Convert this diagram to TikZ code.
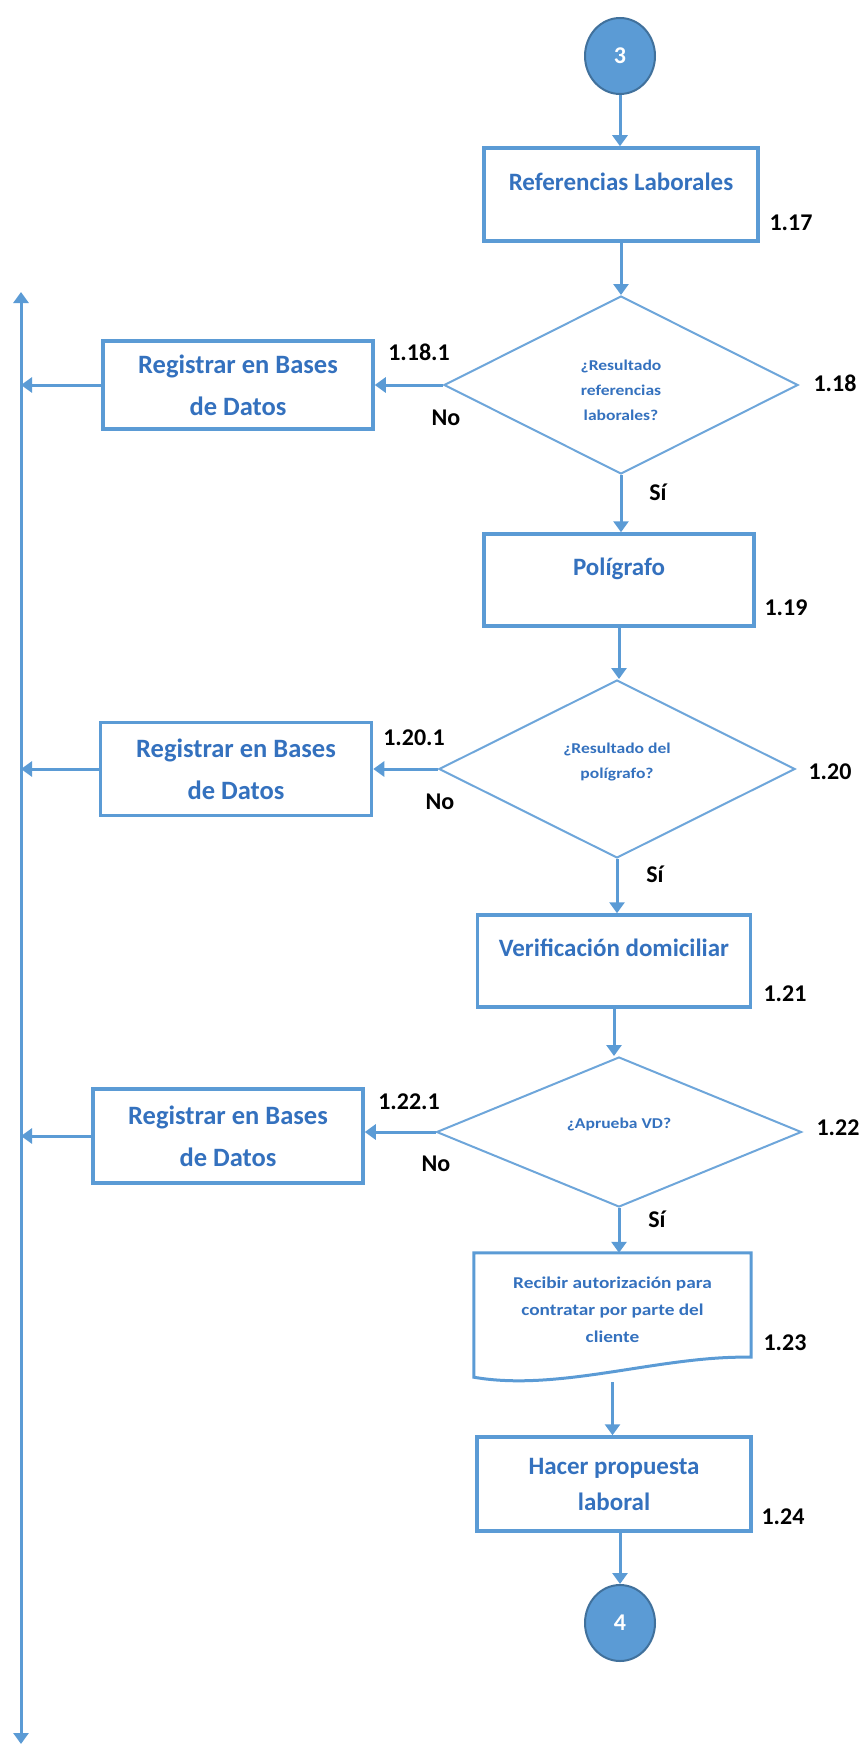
\documentclass[tikz,border=0pt]{standalone}
\usepackage{fontspec}
\setmainfont{Carlito}
\newfontfamily\widefam{Carlito}[FakeStretch=1.17]
\usetikzlibrary{shapes.geometric,arrows.meta,calc}
\definecolor{accent}{HTML}{5B9BD5}
\definecolor{accentdark}{HTML}{41719C}
\definecolor{boxtext}{HTML}{3471BE}
\definecolor{dialine}{HTML}{6EA6DA}
\newcommand{\boxfont}{\fontsize{25}{40}\selectfont\bfseries}
\newcommand{\sidefont}{\fontsize{26.5}{42}\selectfont\bfseries}
\newcommand{\diafont}{\widefam\fontsize{15}{25}\selectfont\bfseries}
\newcommand{\docfont}{\widefam\fontsize{16.5}{27}\selectfont\bfseries}
\newcommand{\numfont}{\fontsize{24}{28}\selectfont\bfseries}
\begin{document}
\begin{tikzpicture}[x=1pt,y=-1pt,
  conn/.style={draw=accent, line width=3pt, -{Triangle[width=15pt,length=11pt]}},
  both/.style={draw=accent, line width=3pt, {Triangle[width=15pt,length=11pt]}-{Triangle[width=15pt,length=11pt]}},
  stepbox/.style={rectangle, draw=accent, line width=3.5pt, minimum width=272pt, minimum height=92pt,
    inner sep=0pt, font=\boxfont, text=boxtext, align=center},
  sidebox/.style={stepbox, font=\sidefont},
  upper/.style={text depth=26pt},
  decision/.style={diamond, draw=dialine, line width=2pt, inner sep=0pt,
    font=\diafont, text=boxtext, align=center},
  connector/.style={ellipse, fill=accent, draw=accentdark, line width=2pt, minimum width=70pt,
    minimum height=76pt, inner sep=0pt, text=white, font=\numfont},
  doctext/.style={font=\docfont, text=boxtext, align=center, inner sep=0pt},
  num/.style={font=\numfont, text=black, inner sep=0pt}
]
\useasboundingbox (0,0) rectangle (859,1744);

% on-page connectors
\node[connector] (c3) at (620,56) {3};
\node[connector] (c4) at (620,1623) {4};

% main column
\node[stepbox, upper, minimum width=274pt, minimum height=93pt] (b117) at (621,194.5) {Referencias Laborales};
\node[decision, minimum width=354pt, minimum height=178pt] (d118) at (621,385) {};
\node[decision, draw=none] (t118) at ($(d118.center)+(0,5)$) {¿Resultado\\referencias\\laborales?};
\node[stepbox, upper, minimum width=270pt] (b119) at (619,580) {Polígrafo};
\node[decision, minimum width=356pt, minimum height=178pt] (d120) at (617,769) {};
\node[decision, draw=none] (t120) at ($(d120.center)+(0,-7)$) {¿Resultado del\\polígrafo?};
\node[stepbox, upper, minimum width=273pt] (b121) at (614,961) {Verificación domiciliar};
\node[decision, minimum width=365pt, minimum height=150pt] (d122) at (619,1132) {};
\node[decision, draw=none] (t122) at ($(d122.center)+(0,-8)$) {¿Aprueba VD?};
\node[minimum width=277pt, minimum height=129pt, inner sep=0pt] (b123) at (612.5,1317.5) {};
\draw[draw=accent, line width=3pt]
  (b123.north west) -- (b123.north east) -- ($(b123.south east)+(0,-25)$)
  .. controls ($(b123.south east)+(-91,-27)$) and ($(b123.south west)+(86,10)$) ..
  ($(b123.south west)+(0,-5)$) -- cycle;
\node[doctext] (t123) at ($(b123.center)+(0,-8)$) {Recibir autorización para\\contratar por parte del\\cliente};
\node[stepbox, minimum width=274pt, minimum height=94pt, font=\fontsize{25}{36}\selectfont\bfseries] (b124) at (614,1484) {Hacer propuesta\\laboral};

% side branch boxes
\node[sidebox, minimum width=270pt, minimum height=88pt] (b1181) at (238,385) {Registrar en Bases\\de Datos};
\node[sidebox, minimum width=271pt, minimum height=93pt] (b1201) at (236,769) {Registrar en Bases\\de Datos};
\node[sidebox, minimum width=270pt, minimum height=94pt] (b1221) at (228,1136) {Registrar en Bases\\de Datos};

% return line on the left
\coordinate (ltop) at (21,292);
\coordinate (lbot) at (21,1744);
\draw[both] (lbot) -- (ltop);

% main flow
\draw[conn] (c3.south) -- (c3.south |- b117.north);
\draw[conn] (b117.south) -- (b117.south |- d118.north);
\draw[conn] (d118.south) -- (d118.south |- b119.north);
\draw[conn] (b119.south) -- (b119.south |- d120.north);
\draw[conn] (d120.south) -- (d120.south |- b121.north);
\draw[conn] (b121.south) -- (b121.south |- d122.north);
\draw[conn] (d122.south) -- (d122.south |- b123.north);
\draw[conn] (b123.south) -- (b123.south |- b124.north);
\draw[conn] (b124.south -| c4.north) -- (c4.north);

% "No" branches
\draw[conn] (d118.west) -- (d118.west -| b1181.east);
\draw[conn] (d120.west) -- (d120.west -| b1201.east);
\draw[conn] (d122.west) -- (d122.west -| b1221.east);
\draw[conn] (b1181.west) -- (b1181.west -| ltop);
\draw[conn] (b1201.west) -- (b1201.west -| ltop);
\draw[conn] (b1221.west) -- (b1221.west -| ltop);

% step numbers and answers
\node[num] (n117) at (791,223) {1.17};
\node[num] (n118) at (835,383) {1.18};
\node[num] (n1181) at (419,352) {1.18.1};
\node[num] (no118) at (446,418) {No};
\node[num] (si118) at (658,492) {Sí};
\node[num] (n119) at (786,608) {1.19};
\node[num] (n120) at (830,772) {1.20};
\node[num] (n1201) at (414,738) {1.20.1};
\node[num] (no120) at (440,802) {No};
\node[num] (si120) at (655,874) {Sí};
\node[num] (n121) at (785,994) {1.21};
\node[num] (n122) at (838,1128) {1.22};
\node[num] (n1221) at (409,1102) {1.22.1};
\node[num] (no122) at (436,1164) {No};
\node[num] (si122) at (657,1219) {Sí};
\node[num] (n123) at (785,1343) {1.23};
\node[num] (n124) at (783,1517) {1.24};
\end{tikzpicture}
\end{document}
